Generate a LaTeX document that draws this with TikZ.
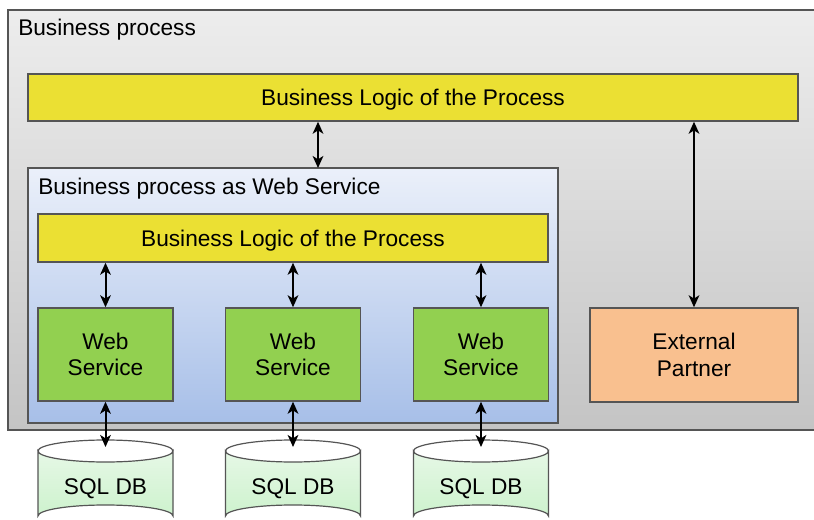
\documentclass[tikz,border=0pt]{standalone}
\usepackage{fontspec}
\setmainfont{Liberation Sans}
\usetikzlibrary{arrows.meta}
\definecolor{frameline}{HTML}{555555}
\definecolor{graytop}{HTML}{EDEDED}
\definecolor{graybot}{HTML}{C4C4C4}
\definecolor{bluetop}{HTML}{EBF0FA}
\definecolor{bluebot}{HTML}{A7BFE8}
\definecolor{logicyellow}{HTML}{EBE033}
\definecolor{wsgreen}{HTML}{92D050}
\definecolor{partnerorange}{HTML}{F9C08F}
\definecolor{dbtop}{HTML}{E6F8E6}
\definecolor{dbbot}{HTML}{CDF2CD}
\tikzset{
  lbl/.style={font=\fontsize{17}{20}\selectfont, text=black, inner sep=0pt},
  title/.style={lbl, anchor=west, text depth=0pt},
  boxline/.style={draw=frameline, line width=1.1pt},
  logicbar/.style={boxline, fill=logicyellow, inner sep=0pt, lbl, text depth=0pt},
  wsbox/.style={boxline, fill=wsgreen, inner sep=0pt, lbl, align=center,
    minimum width=101.25pt, minimum height=69.75pt},
  partnerbox/.style={boxline, fill=partnerorange, inner sep=0pt, lbl, align=center,
    minimum width=156pt, minimum height=70.5pt},
  tip/.style={Stealth[length=9pt,width=8pt,inset=2.5pt]},
  link/.style={line width=1.5pt, {Stealth[length=9pt,width=8pt,inset=2.5pt]}-{Stealth[length=9pt,width=8pt,inset=2.5pt]}},
}
\begin{document}
\begin{tikzpicture}[x=0.75pt,y=-0.75pt]
\useasboundingbox (0,0) rectangle (814,520);
\fill[white] (0,0) rectangle (814,520);

% outer frame: the whole business process
\shade[top color=graytop, bottom color=graybot] (8,10) rectangle (830,430);
\draw[boxline] (830,10) -- (8,10) -- (8,430) -- (830,430);
\node[title] (outertitle) at (18,27) {Business process};

% top-level business logic
\node[logicbar, minimum width=577.5pt, minimum height=35.25pt] (toplogic) at (413,97.5) {Business Logic of the Process};

% inner frame: process exposed as a web service
\shade[top color=bluetop, bottom color=bluebot] (28,168) rectangle (558,423);
\draw[boxline] (28,168) rectangle (558,423);
\coordinate (innertop) at (318,168);
\node[title] (innertitle) at (38,186) {Business process as Web Service};

\node[logicbar, minimum width=382.5pt, minimum height=36pt] (innerlogic) at (293,238) {Business Logic of the Process};

\node[wsbox] (ws1) at (105.5,354.5) {Web\\Service};
\node[wsbox] (ws2) at (293,354.5) {Web\\Service};
\node[wsbox] (ws3) at (481,354.5) {Web\\Service};

\node[partnerbox] (partner) at (694,355) {External\\Partner};

% databases
\foreach \i/\cx in {1/105.5, 2/293, 3/481}{
  \shade[top color=dbtop, bottom color=dbbot, draw=frameline, line width=0.9pt]
    (\cx-67.5,451) -- (\cx-67.5,516) arc[start angle=180, end angle=360, x radius=67.5, y radius=11]
    -- (\cx+67.5,451) arc[start angle=0, end angle=180, x radius=67.5, y radius=11] -- cycle;
  \draw[frameline, line width=0.9pt] (\cx-67.5,451) arc[start angle=180, end angle=360, x radius=67.5, y radius=11];
  \coordinate (dbtop\i) at (\cx,447);
  \node[lbl] (db\i) at (\cx,489) {SQL DB};
}

% connectors
\draw[link] (toplogic.south -| innertop) -- (innertop);
\draw[link] (toplogic.south -| partner.north) -- (partner.north);
\draw[link] (innerlogic.south -| ws1.north) -- (ws1.north);
\draw[link] (innerlogic.south -| ws2.north) -- (ws2.north);
\draw[link] (innerlogic.south -| ws3.north) -- (ws3.north);
\draw[link] (ws1.south) -- (dbtop1);
\draw[link] (ws2.south) -- (dbtop2);
\draw[link] (ws3.south) -- (dbtop3);
\end{tikzpicture}
\end{document}
